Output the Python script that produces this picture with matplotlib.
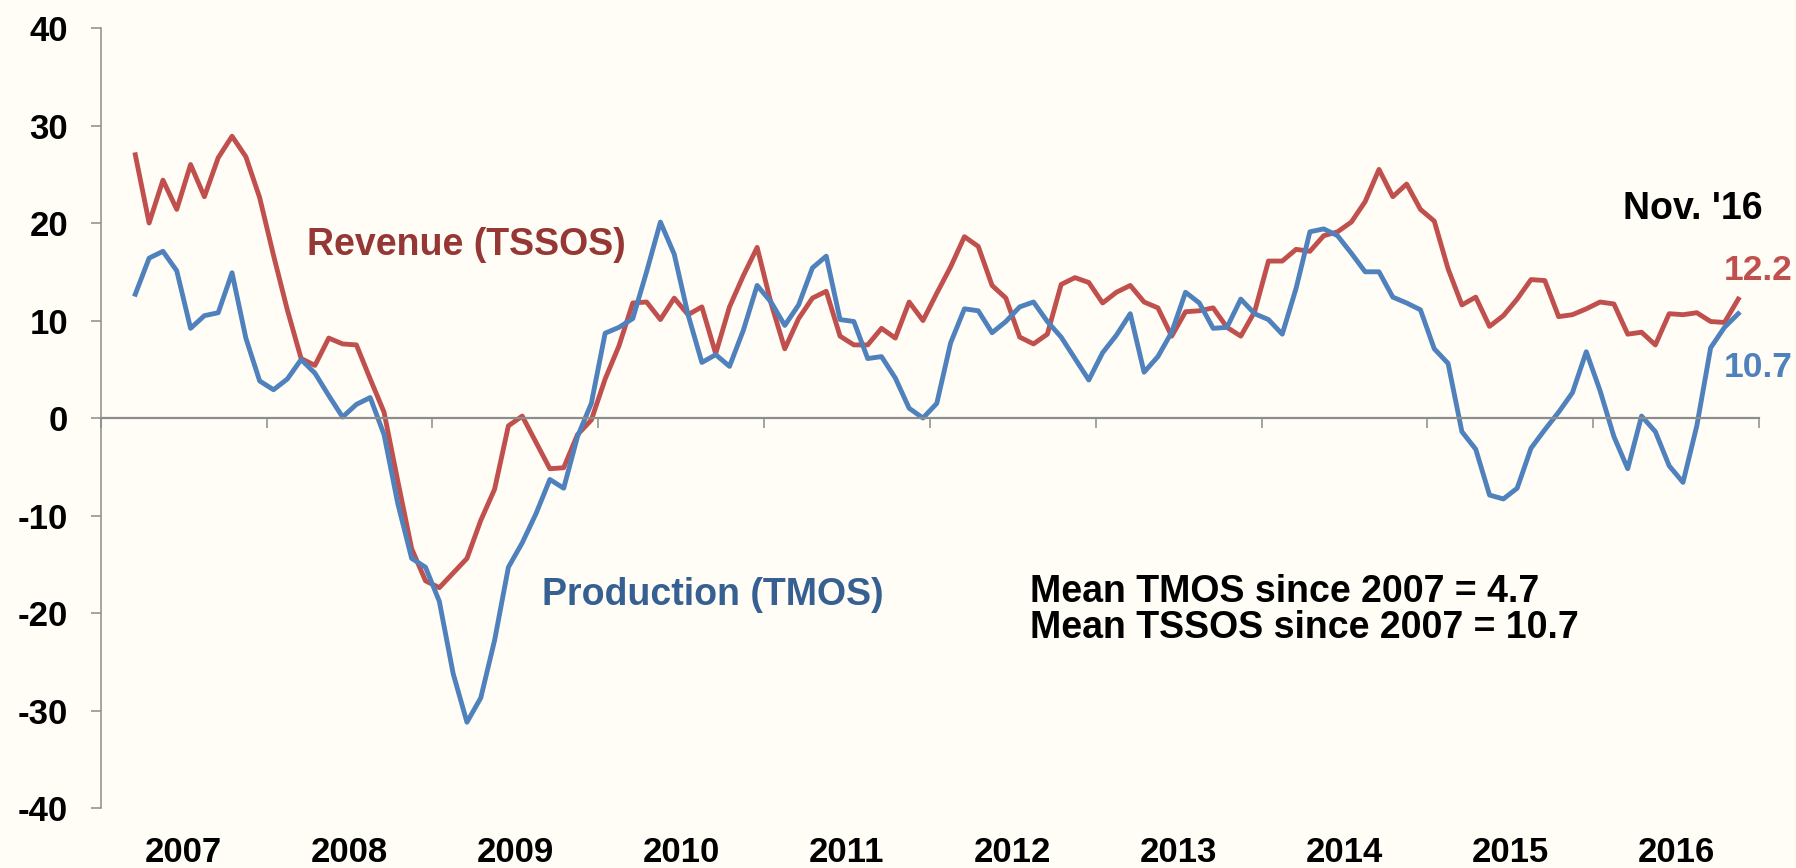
import matplotlib
matplotlib.use("Agg")
import matplotlib.pyplot as plt
import matplotlib.transforms as mtransforms
import pandas as pd

# monthly readings, Mar 2007 .. Nov 2016
months = pd.period_range("2007-03", "2016-11", freq="M")

revenue = [  # TSSOS
    27.0, 20.0, 24.4, 21.4, 26.0, 22.7, 26.7, 28.9, 26.8, 22.6,
    16.7, 11.1, 6.1, 5.4, 8.2, 7.6, 7.5, 4.0, 0.6, -6.5,
    -13.4, -16.7, -17.4, -15.9, -14.4, -10.5, -7.3, -0.8, 0.2, -2.5,
    -5.2, -5.1, -1.7, -0.2, 4.0, 7.4, 11.8, 11.9, 10.1, 12.3,
    10.6, 11.4, 6.6, 11.4, 14.6, 17.5, 11.8, 7.1, 10.2, 12.3,
    13.0, 8.4, 7.5, 7.5, 9.2, 8.2, 11.9, 10.0, 12.8, 15.5,
    18.6, 17.6, 13.6, 12.3, 8.3, 7.6, 8.6, 13.7, 14.4, 13.9,
    11.8, 12.9, 13.6, 11.9, 11.3, 8.4, 10.9, 11.0, 11.3, 9.3,
    8.4, 10.9, 16.1, 16.1, 17.3, 17.1, 18.7, 19.1, 20.1, 22.2,
    25.5, 22.7, 24.0, 21.4, 20.2, 15.3, 11.6, 12.4, 9.4, 10.5,
    12.2, 14.2, 14.1, 10.4, 10.6, 11.2, 11.9, 11.7, 8.6, 8.8,
    7.5, 10.7, 10.6, 10.8, 9.9, 9.8, 12.2,
]
production = [  # TMOS
    12.7, 16.4, 17.1, 15.1, 9.2, 10.5, 10.8, 14.9, 8.2, 3.8,
    2.9, 4.0, 6.0, 4.6, 2.3, 0.1, 1.4, 2.1, -1.7, -8.8,
    -14.4, -15.3, -18.8, -26.2, -31.2, -28.7, -22.8, -15.3, -12.8, -9.8,
    -6.3, -7.2, -1.9, 1.5, 8.7, 9.3, 10.2, 15.0, 20.1, 16.8,
    10.6, 5.7, 6.5, 5.3, 9.0, 13.6, 11.9, 9.5, 11.6, 15.4,
    16.6, 10.1, 9.9, 6.1, 6.3, 4.1, 1.0, 0.0, 1.5, 7.7,
    11.2, 11.0, 8.75, 9.9, 11.4, 11.9, 9.9, 8.3, 6.1, 3.9,
    6.7, 8.5, 10.7, 4.7, 6.3, 8.8, 12.9, 11.8, 9.2, 9.3,
    12.2, 10.7, 10.1, 8.6, 13.3, 19.1, 19.4, 18.7, 16.9, 15.0,
    15.0, 12.4, 11.8, 11.1, 7.1, 5.6, -1.4, -3.2, -7.9, -8.3,
    -7.2, -3.1, -1.2, 0.6, 2.6, 6.8, 2.8, -1.9, -5.2, 0.2,
    -1.4, -4.9, -6.6, -0.8, 7.2, 9.3, 10.7,
]

years = list(range(2007, 2017))
yticks = list(range(-40, 41, 10))

plt.rcParams['font.family'] = ['Liberation Sans', 'DejaVu Sans']
plt.rcParams['font.weight'] = 'bold'
plt.rcParams['axes.unicode_minus'] = False

bg = '#FFFDF6'
grey = '#8C8C8C'
red, blue = '#C0504D', '#4F81BD'

fig = plt.figure(figsize=(17.96, 8.68), dpi=100, facecolor=bg)
ax = fig.add_axes([0.0561, 0.0691, 0.9233, 0.8986])
ax.set_facecolor(bg)

x = months.year + (months.month - 0.5) / 12
ax.plot(x, revenue, color=red, lw=3.5, clip_on=False)
ax.plot(x, production, color=blue, lw=3.5, clip_on=False)

ax.set_xlim(2007, 2017)
ax.set_ylim(-40, 40)

for s in ('top', 'right'):
    ax.spines[s].set_visible(False)
ax.spines['bottom'].set_position(('data', 0))
ax.spines['bottom'].set_color(grey)
ax.spines['bottom'].set_linewidth(1.6)
ax.spines['left'].set_color(grey)
ax.spines['left'].set_linewidth(1.1)

ax.set_xticks(years + [2017])
ax.set_xticklabels([])
ax.tick_params(axis='x', direction='out', length=7.5, width=1.1, color=grey)
ax.set_yticks(yticks)
ax.set_yticklabels([str(v) for v in yticks], fontsize=25, fontweight='bold')
ax.tick_params(axis='y', direction='out', length=7.5, width=1.1, color=grey, pad=16)

# year labels under the plot
tr = mtransforms.blended_transform_factory(ax.transData, fig.transFigure)
for yr in years:
    ax.text(yr + 0.5, 0.0065, str(yr), transform=tr, ha='center', va='baseline',
            fontsize=25, fontweight='bold')

fig.text(0.1709, 0.7062, 'Revenue (TSSOS)', color='#953735', fontsize=27,
         fontweight='bold', va='baseline')
fig.text(0.3018, 0.3030, 'Production (TMOS)', color='#376092', fontsize=27,
         fontweight='bold', va='baseline')
fig.text(0.5735, 0.3065, 'Mean TMOS since 2007 = 4.7', fontsize=27,
         fontweight='bold', va='baseline')
fig.text(0.5735, 0.2650, 'Mean TSSOS since 2007 = 10.7', fontsize=27,
         fontweight='bold', va='baseline')
fig.text(0.9037, 0.7477, "Nov. '16", fontsize=27, fontweight='bold', va='baseline')
fig.text(0.9600, 0.6774, '12.2', color=red, fontsize=25.5, fontweight='bold', va='baseline')
fig.text(0.9600, 0.5657, '10.7', color=blue, fontsize=25.5, fontweight='bold', va='baseline')

fig.savefig('out.png', dpi=100, facecolor=bg)
